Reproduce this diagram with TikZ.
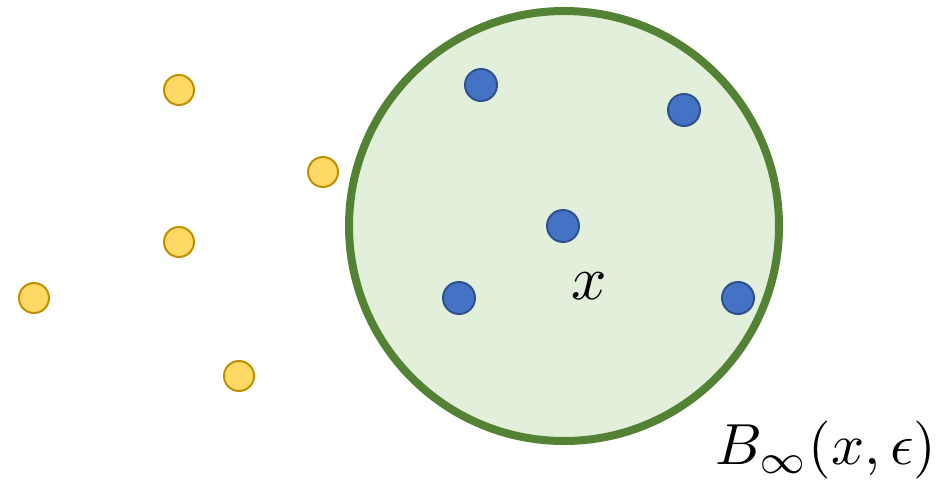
\documentclass[tikz,border=0pt]{standalone}
\usepackage{graphicx}
\definecolor{ballfill}{HTML}{E2EFDA}
\definecolor{balldraw}{HTML}{548235}
\definecolor{yelfill}{HTML}{FFD966}
\definecolor{yeldraw}{HTML}{BF9000}
\definecolor{bluefill}{HTML}{4472C4}
\definecolor{bluedraw}{HTML}{2F528F}
\begin{document}
\begin{tikzpicture}[x=1pt,y=-1pt,
  ydot/.style={circle,fill=yelfill,draw=yeldraw,line width=2pt,minimum size=30pt,inner sep=0pt},
  bdot/.style={circle,fill=bluefill,draw=bluedraw,line width=2pt,minimum size=32pt,inner sep=0pt},
  mathlbl/.style={inner sep=0pt}]
\useasboundingbox (0,0) rectangle (949,487);
\node[circle,fill=ballfill,draw=balldraw,line width=8pt,minimum size=430pt,inner sep=0pt] (ball) at (564,226) {};
\node[ydot] (y1) at (179,90) {};
\node[ydot] (y2) at (323,172) {};
\node[ydot] (y3) at (179,242) {};
\node[ydot] (y4) at (34,298) {};
\node[ydot] (y5) at (239,376) {};
\node[bdot] (b1) at (481,85) {};
\node[bdot] (b2) at (684,110) {};
\node[bdot] (b3) at (563,226) {};
\node[bdot] (b4) at (459,298) {};
\node[bdot] (b5) at (738,298) {};
\node[mathlbl] (xl) at (589,286) {\scalebox{6.2}{$x$}};
\node[mathlbl] (bl) at (826,450) {\scalebox{5.8}{$B_\infty(x,\epsilon)$}};
\end{tikzpicture}
\end{document}
